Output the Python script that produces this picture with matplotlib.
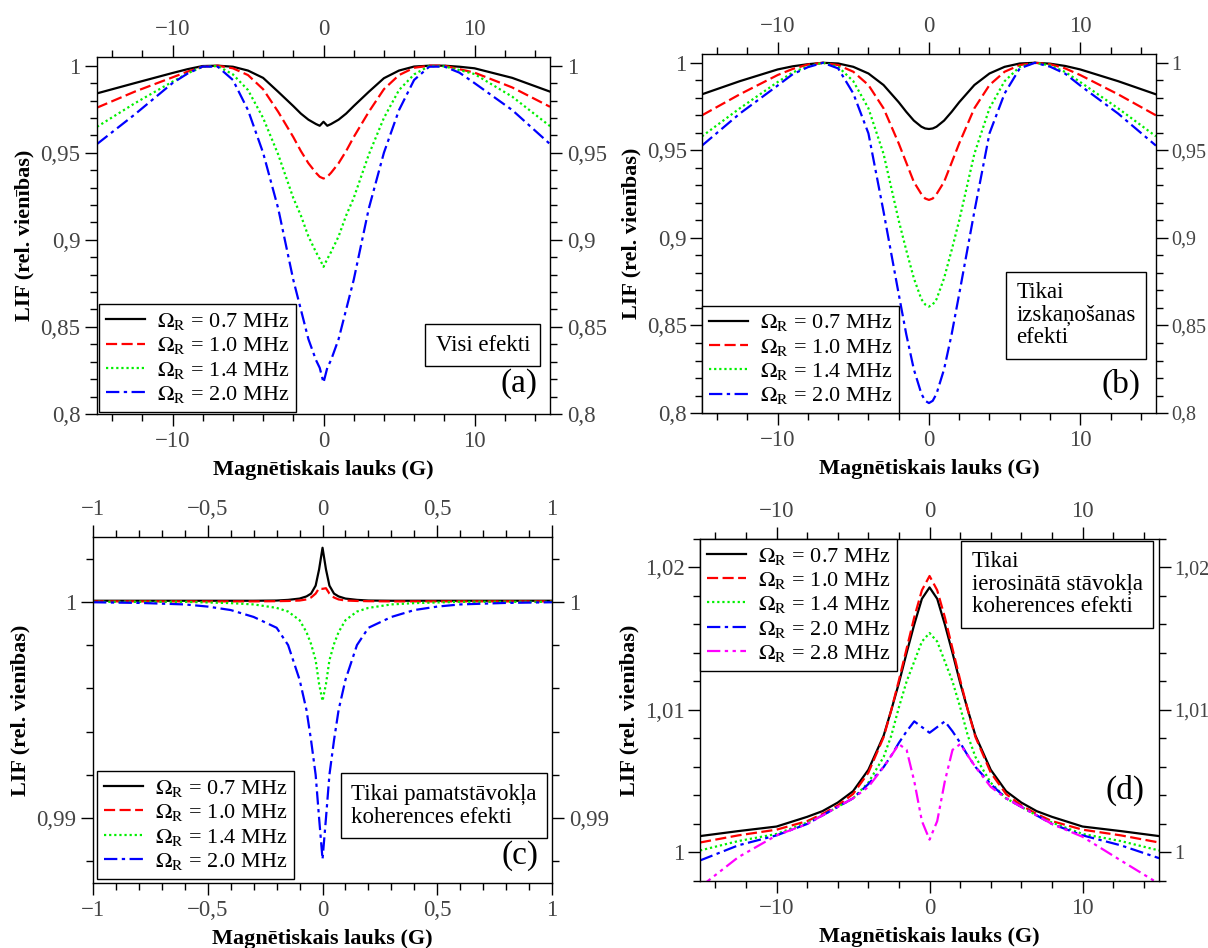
import matplotlib
matplotlib.use('Agg')
import matplotlib.pyplot as plt
from matplotlib.ticker import MultipleLocator, FixedLocator, FuncFormatter

plt.rcParams['font.family'] = ['Liberation Serif', 'DejaVu Serif']
plt.rcParams['mathtext.fontset'] = 'stix'

# --- data -------------------------------------------------------------
rabi = ['0.7', '1.0', '1.4', '2.0', '2.8']

# (a) visi efekti
xa = [-15, -12.5, -10, -9, -8, -7, -6, -5, -4, -3, -2, -1.5, -1, -0.5, -0.25, 0,
      0.25, 0.5, 1, 1.5, 2, 3, 4, 5, 6, 7, 8, 9, 10, 12.5, 15]
a_07 = [0.9841, 0.9900, 0.9958, 0.9980, 0.9998, 1.0, 0.9994, 0.9972, 0.9930, 0.9850, 0.9768,
        0.9725, 0.9690, 0.9665, 0.9655, 0.9678, 0.9655, 0.9665, 0.9690, 0.9725, 0.9768,
        0.9850, 0.9928, 0.9972, 0.9995, 1.0, 1.0, 0.9994, 0.9985, 0.9930, 0.9851]
a_10 = [0.9759, 0.9851, 0.9933, 0.9966, 0.9994, 1.0, 0.9985, 0.9946, 0.9865, 0.9735, 0.9590,
        0.9510, 0.9440, 0.9385, 0.9362, 0.9352, 0.9362, 0.9385, 0.9440, 0.9510, 0.9590,
        0.9735, 0.9865, 0.9946, 0.9988, 1.0, 1.0, 0.9980, 0.9960, 0.9875, 0.9764]
a_14 = [0.9649, 0.9784, 0.9908, 0.9956, 0.9994, 0.9998, 0.9950, 0.9860, 0.9700, 0.9490, 0.9240,
        0.9140, 0.9020, 0.8930, 0.8890, 0.8845, 0.8890, 0.8930, 0.9020, 0.9140, 0.9240,
        0.9490, 0.9700, 0.9860, 0.9950, 0.9998, 0.9996, 0.9975, 0.9952, 0.9822, 0.9653]
a_20 = [0.9550, 0.9720, 0.9900, 0.9955, 0.9995, 0.9994, 0.9918, 0.9745, 0.9500, 0.9180, 0.8770,
        0.8600, 0.8430, 0.8310, 0.8265, 0.8180, 0.8265, 0.8310, 0.8430, 0.8600, 0.8770,
        0.9180, 0.9500, 0.9745, 0.9918, 0.9994, 0.9995, 0.9960, 0.9900, 0.9745, 0.9550]

# (b) tikai izskaņošanas efekti
xb = xa
b_07 = [0.9820, 0.9895, 0.9962, 0.9980, 0.9992, 1.0, 0.9996, 0.9977, 0.9939, 0.9873, 0.9775,
        0.9720, 0.9670, 0.9635, 0.9625, 0.9622, 0.9625, 0.9635, 0.9670, 0.9720, 0.9775,
        0.9873, 0.9939, 0.9977, 0.9996, 1.0, 0.9995, 0.9982, 0.9962, 0.9895, 0.9820]
b_10 = [0.9700, 0.9820, 0.9930, 0.9965, 0.9990, 1.0, 0.9987, 0.9949, 0.9873, 0.9740, 0.9540,
        0.9430, 0.9320, 0.9250, 0.9225, 0.9217, 0.9225, 0.9250, 0.9320, 0.9430, 0.9540,
        0.9740, 0.9873, 0.9949, 0.9987, 1.0, 0.9992, 0.9968, 0.9930, 0.9820, 0.9700]
b_14 = [0.9580, 0.9740, 0.9890, 0.9945, 0.9980, 1.0, 0.9977, 0.9895, 0.9740, 0.9480, 0.9100,
        0.8930, 0.8770, 0.8650, 0.8620, 0.8608, 0.8620, 0.8650, 0.8770, 0.8930, 0.9100,
        0.9480, 0.9740, 0.9895, 0.9977, 1.0, 0.9985, 0.9948, 0.9890, 0.9740, 0.9580]
b_20 = [0.9527, 0.9710, 0.9870, 0.9935, 0.9975, 1.0, 0.9968, 0.9825, 0.9597, 0.9150, 0.8680,
        0.8450, 0.8250, 0.8110, 0.8070, 0.8057, 0.8070, 0.8110, 0.8250, 0.8450, 0.8680,
        0.9150, 0.9597, 0.9825, 0.9968, 1.0, 0.9978, 0.9938, 0.9870, 0.9710, 0.9527]

# (c) tikai pamatstāvokļa koherences efekti
xc = [-1, -0.8, -0.6, -0.5, -0.4, -0.3, -0.2, -0.15, -0.1, -0.07, -0.05, -0.03, -0.015, 0,
      0.015, 0.03, 0.05, 0.07, 0.1, 0.15, 0.2, 0.3, 0.4, 0.5, 0.6, 0.8, 1]
c_07 = [1.00005, 1.00005, 1.00005, 1.00005, 1.00005, 1.00005, 1.00006, 1.00009, 1.00015,
        1.00025, 1.00038, 1.00075, 1.00150, 1.00250, 1.00150, 1.00075, 1.00038, 1.00025,
        1.00015, 1.00009, 1.00006, 1.00005, 1.00005, 1.00005, 1.00005, 1.00005, 1.00005]
c_10 = [1.00002, 1.00002, 1.00002, 1.00002, 1.00002, 1.00002, 1.00003, 1.00004, 1.00006,
        1.00011, 1.00020, 1.00038, 1.00063, 1.00060, 1.00063, 1.00038, 1.00020, 1.00011,
        1.00006, 1.00004, 1.00003, 1.00002, 1.00002, 1.00002, 1.00002, 1.00002, 1.00002]
c_14 = [1.0, 1.0, 1.0, 0.99997, 0.99994, 0.99988, 0.99972, 0.99955, 0.99915, 0.99860,
        0.99805, 0.99730, 0.99620, 0.99542, 0.99620, 0.99730, 0.99805, 0.99860, 0.99915,
        0.99955, 0.99972, 0.99988, 0.99994, 0.99997, 1.0, 1.0, 1.0]
c_20 = [0.99998, 0.99995, 0.99988, 0.99978, 0.99962, 0.99930, 0.99880, 0.99800, 0.99640,
        0.99500, 0.99360, 0.99200, 0.99000, 0.98810, 0.99000, 0.99200, 0.99360, 0.99500,
        0.99640, 0.99800, 0.99880, 0.99930, 0.99962, 0.99978, 0.99988, 0.99995, 0.99998]

# (d) tikai ierosinātā stāvokļa koherences efekti
xd = [-15, -12.5, -10, -8, -7, -6, -5, -4, -3, -2.5, -2, -1.5, -1, -0.5, 0,
      0.5, 1, 1.5, 2, 2.5, 3, 4, 5, 6, 7, 8, 10, 12.5, 15]
d_07 = [1.00115, 1.00150, 1.00182, 1.00250, 1.00290, 1.00350, 1.00430, 1.00580, 1.00820,
        1.01000, 1.01190, 1.01400, 1.01600, 1.01780, 1.01860, 1.01780, 1.01600, 1.01400,
        1.01190, 1.01000, 1.00820, 1.00580, 1.00430, 1.00350, 1.00290, 1.00250, 1.00182,
        1.00150, 1.00115]
d_10 = [1.00070, 1.00120, 1.00160, 1.00220, 1.00270, 1.00330, 1.00410, 1.00560, 1.00810,
        1.01000, 1.01210, 1.01430, 1.01650, 1.01840, 1.01940, 1.01840, 1.01650, 1.01430,
        1.01210, 1.01000, 1.00810, 1.00560, 1.00410, 1.00330, 1.00270, 1.00220, 1.00160,
        1.00120, 1.00070]
d_14 = [1.00014, 1.00080, 1.00130, 1.00210, 1.00260, 1.00320, 1.00380, 1.00490, 1.00670,
        1.00820, 1.01020, 1.01200, 1.01340, 1.01480, 1.01540, 1.01480, 1.01340, 1.01200,
        1.01020, 1.00820, 1.00670, 1.00490, 1.00380, 1.00320, 1.00260, 1.00210, 1.00130,
        1.00080, 1.00014]
d_20 = [0.99944, 1.00050, 1.00120, 1.00200, 1.00260, 1.00320, 1.00380, 1.00480, 1.00600,
        1.00680, 1.00770, 1.00850, 1.00920, 1.00880, 1.00840, 1.00880, 1.00920, 1.00850,
        1.00770, 1.00680, 1.00600, 1.00480, 1.00380, 1.00320, 1.00260, 1.00200, 1.00120,
        1.00050, 0.99960]
d_28 = [0.99757, 0.99967, 1.00120, 1.00200, 1.00260, 1.00320, 1.00380, 1.00460, 1.00600,
        1.00680, 1.00760, 1.00720, 1.00500, 1.00220, 1.00090, 1.00220, 1.00500, 1.00720,
        1.00760, 1.00680, 1.00600, 1.00460, 1.00380, 1.00320, 1.00260, 1.00200, 1.00110,
        0.99944, 0.99780]

# --- style ------------------------------------------------------------
colors = ['#000000', '#ff0000', '#00f000', '#0000ff', '#ff00ff']
dashes = ['-', (0, (5, 2)), (0, (1, 1.3)), (0, (6, 2, 1.5, 2)), (0, (6, 2, 1.5, 2, 1.5, 2))]
tick_gray = '#444444'


def comma(v, pos):
    v = round(v, 6)
    if abs(v) < 1e-9:
        v = 0
    return f'{v:g}'.replace('.', ',').replace('-', '\u2212')


def setup(ax, xlim, ylim, xmaj, xmin, ymaj, ymin, rsize=16.5, ypad=3.5):
    ax.set_xlim(*xlim)
    ax.set_ylim(*ylim)
    ax.xaxis.set_major_locator(MultipleLocator(xmaj))
    ax.xaxis.set_minor_locator(MultipleLocator(xmin))
    if isinstance(ymaj, list):
        ax.yaxis.set_major_locator(FixedLocator(ymaj))
    else:
        ax.yaxis.set_major_locator(MultipleLocator(ymaj))
    ax.yaxis.set_minor_locator(MultipleLocator(ymin))
    ax.xaxis.set_major_formatter(FuncFormatter(comma))
    ax.yaxis.set_major_formatter(FuncFormatter(comma))
    ax.tick_params(which='both', direction='out', top=True, right=True,
                   labeltop=True, labelright=True, width=1, labelsize=16.5,
                   labelcolor=tick_gray)
    ax.tick_params(which='major', length=8.5)
    ax.tick_params(which='minor', length=5)
    ax.tick_params(axis='y', which='major', pad=ypad)
    # right column: labels on the right side sit at the figure edge
    for tick in ax.yaxis.get_major_ticks():
        tick.label2.set_fontsize(rsize)
    for s in ax.spines.values():
        s.set_linewidth(1)
    ax.set_xlabel('Magnētiskais lauks (G)', fontsize=16, fontweight='bold', labelpad=6)
    ax.set_ylabel('LIF (rel. vienības)', fontsize=16, fontweight='bold', labelpad=4)


def curves(ax, x, ys):
    for i, y in enumerate(ys):
        ax.plot(x, y, color=colors[i], linestyle=dashes[i], linewidth=1.6,
                label=r'$\Omega_{\rm R}$ = ' + rabi[i] + ' MHz')


def legend(ax, loc, pad):
    leg = ax.legend(loc=loc, fontsize=16, fancybox=False, edgecolor='black',
                    framealpha=1, handlelength=1.75, handletextpad=0.55,
                    labelspacing=0.15, borderpad=0.3, borderaxespad=pad)
    leg.get_frame().set_linewidth(1)


def note(ax, x, y, txt):
    ax.text(x, y, txt, transform=ax.transAxes, ha='center', va='center',
            fontsize=16.5, multialignment='left', linespacing=1.1,
            bbox=dict(boxstyle='square,pad=0.45', fc='white', ec='black', lw=1))


def tag(ax, x, y, txt):
    ax.text(x, y, txt, transform=ax.transAxes, ha='center', va='center', fontsize=24)


fig = plt.figure(figsize=(12.08, 9.48), dpi=100)

ax = fig.add_axes([0.0803, 0.5633, 0.375, 0.3766])
curves(ax, xa, [a_07, a_10, a_14, a_20])
setup(ax, (-15, 15), (0.8, 1.005), 10, 2, 0.05, 0.01)
legend(ax, 'lower left', 0.1)
note(ax, 0.852, 0.193, 'Visi efekti')
tag(ax, 0.931, 0.084, '(a)')

ax = fig.add_axes([0.5811, 0.5643, 0.3758, 0.3787])
curves(ax, xb, [b_07, b_10, b_14, b_20])
setup(ax, (-15, 15), (0.8, 1.005), 10, 2, 0.05, 0.01, rsize=14.5, ypad=2.5)
legend(ax, 'lower left', 0.0)
note(ax, 0.824, 0.273, 'Tikai\nizskaņošanas\nefekti')
tag(ax, 0.923, 0.081, '(b)')

ax = fig.add_axes([0.077, 0.0686, 0.38, 0.365])
curves(ax, xc, [c_07, c_10, c_14, c_20])
setup(ax, (-1, 1), (0.987, 1.003), 0.5, 0.1, [0.99, 1.0], 0.002)
legend(ax, 'lower left', 0.2)
note(ax, 0.764, 0.223, 'Tikai pamatstāvokļa\nkoherences efekti')
tag(ax, 0.930, 0.078, '(c)')

ax = fig.add_axes([0.5795, 0.0707, 0.38, 0.3608])
curves(ax, xd, [d_07, d_10, d_14, d_20, d_28])
setup(ax, (-15, 15), (0.998, 1.022), 10, 2, 0.01, 0.002, rsize=14.5, ypad=2.5)
legend(ax, 'upper left', 0.0)
note(ax, 0.778, 0.868, 'Tikai\nierosinātā stāvokļa\nkoherences efekti')
tag(ax, 0.925, 0.266, '(d)')

fig.savefig('out.png', dpi=100)
